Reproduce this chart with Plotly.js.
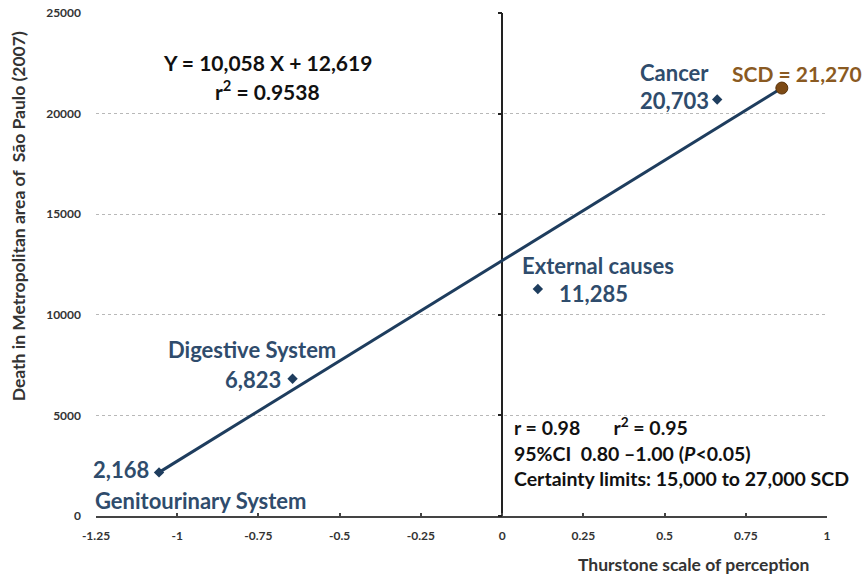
<!DOCTYPE html>
<html><head><meta charset="utf-8">
<script src="https://cdn.plot.ly/plotly-3.0.1.min.js"></script>
<style>html,body{margin:0;padding:0;background:#fff}#chart{width:866px;height:577px}</style>
</head><body><div id="chart"></div>
<script>
// Data
const causes = ["Genitourinary System", "Digestive System", "External causes", "Cancer"];
const thurstone = [-1.056, -0.645, 0.110, 0.662];
const deaths = [2168, 6823, 11285, 20703];
const deathLabels = ["2,168", "6,823", "11,285", "20,703"];
const scdX = [0.861];
const scdY = [21270];
const scdLabel = "SCD = 21,270";
const fitLineX = [-1.056, 0.861];
const fitLineY = [2168, 21270];
const xTickVals = [-1.25, -1, -0.75, -0.5, -0.25, 0, 0.25, 0.5, 0.75, 1];
const xTickText = ["-1.25", "-1", "-0.75", "-0.5", "-0.25", "0", "0.25", "0.5", "0.75", "1"];
const yTickVals = [0, 5000, 10000, 15000, 20000, 25000];
const yTickText = ["0", "5000", "10000", "15000", "20000", "25000"];

const FONT = "Lato, 'Open Sans', sans-serif";
const BLUE = "#2f4c6c";
const NAVY = "#1e3d5e";
const BROWN = "#8a5a22";
const LABEL_SIZE = 22;
const NB = "\u00a0";

// label offsets (pixels) relative to each point
const labelStyle = [
  {vdx: -8, vdy: 3, va: "right", ndx: -66, ndy: -28, na: "left"},
  {vdx: -10, vdy: -1, va: "right", ndx: -41, ndy: 29, na: "center"},
  {vdx: 19, vdy: -5, va: "left", ndx: -18, ndy: 23, na: "left"},
  {vdx: -79, vdy: -1, va: "left", ndx: -79, ndy: 27, na: "left"}
];

const annotations = [];
causes.forEach((c, i) => {
  const s = labelStyle[i];
  annotations.push({x: thurstone[i], y: deaths[i], xref: "x", yref: "y", text: deathLabels[i], showarrow: false,
    xanchor: s.va, yanchor: "middle", xshift: s.vdx, yshift: s.vdy, font: {family: FONT, size: LABEL_SIZE, color: BLUE, weight: "bold"}});
  annotations.push({x: thurstone[i], y: deaths[i], xref: "x", yref: "y", text: c, showarrow: false,
    xanchor: s.na, yanchor: "middle", xshift: s.ndx, yshift: s.ndy, font: {family: FONT, size: LABEL_SIZE, color: BLUE, weight: "bold"}});
});
annotations.push({x: scdX[0], y: scdY[0], xref: "x", yref: "y", text: scdLabel, showarrow: false,
  xanchor: "left", yanchor: "middle", xshift: -52, yshift: 15, font: {family: FONT, size: 21, color: BROWN, weight: "bold"}});

// equation
annotations.push({x: 0.234, y: 0.9006, xref: "paper", yref: "paper", text: "Y = 10,058 X + 12,619", showarrow: false,
  xanchor: "center", yanchor: "middle", font: {family: FONT, size: 21, color: "#111", weight: "bold"}});
annotations.push({x: 0.234, y: 0.847, xref: "paper", yref: "paper", text: "r<sup>2</sup> = 0.9538", showarrow: false,
  xanchor: "center", yanchor: "middle", font: {family: FONT, size: 21, color: "#111", weight: "bold"}});

// statistics
const statLines = [
  "r = 0.98" + NB.repeat(7) + "r<sup>2</sup> = 0.95",
  "95%CI" + NB + NB + "0.80 \u20131.00 (<i>P</i>&lt;0.05)",
  "Certainty limits: 15,000 to 27,000 SCD"
];
const statY = [0.177, 0.125, 0.0755];
statLines.forEach((t, i) => annotations.push({x: 0.569, y: statY[i], xref: "paper", yref: "paper", text: t, showarrow: false,
  xanchor: "left", yanchor: "middle", font: {family: FONT, size: 19.5, color: "#111", weight: "bold"}}));

// axis titles
annotations.push({x: -0.1067, y: 0.596, xref: "paper", yref: "paper", text: "Death in Metropolitan area of" + NB + NB + "São Paulo (2007)",
  textangle: -90, showarrow: false, xanchor: "center", yanchor: "middle", font: {family: FONT, size: 17.5, color: "#333", weight: "bold"}});
annotations.push({x: 0.817, y: -0.0974, xref: "paper", yref: "paper", text: "Thurstone scale of perception",
  showarrow: false, xanchor: "center", yanchor: "middle", font: {family: FONT, size: 17.5, color: "#333", weight: "bold"}});

const traces = [
  {x: fitLineX, y: fitLineY, type: "scatter", mode: "lines", yaxis: "y", line: {color: NAVY, width: 3}, hoverinfo: "skip"},
  {x: thurstone, y: deaths, type: "scatter", mode: "markers", yaxis: "y2", text: causes,
    marker: {symbol: "diamond", size: 8, color: NAVY}},
  {x: scdX, y: scdY, type: "scatter", mode: "markers", yaxis: "y2",
    marker: {symbol: "circle", size: 12, color: "#7d4a14", line: {color: "#5a3208", width: 1}}}
];

const layout = {
  width: 866, height: 577,
  margin: {l: 96, r: 39, t: 13, b: 61},
  paper_bgcolor: "#fff", plot_bgcolor: "#fff",
  showlegend: false,
  xaxis: {range: [-1.25, 1], tickvals: xTickVals, ticktext: xTickText, showgrid: false,
    zeroline: true, zerolinecolor: "#222", zerolinewidth: 2,
    showline: true, linecolor: "#444", linewidth: 2, ticks: "inside", ticklen: 3, tickcolor: "#444", tickwidth: 2,
    ticklabelstandoff: 8, tickfont: {family: FONT, size: 12, color: "#333", weight: "bold"}, fixedrange: true},
  yaxis: {range: [0, 25000], tickvals: yTickVals, ticktext: yTickText, showgrid: true, gridcolor: "#b8b8b8", griddash: "dot",
    gridwidth: 1, zeroline: false, showline: false, ticks: "", ticklabelstandoff: 14,
    tickfont: {family: FONT, size: 12, color: "#333", weight: "bold"}, fixedrange: true},
  yaxis2: {range: [0, 25000], overlaying: "y", anchor: "free", position: 1.25 / 2.25, side: "left",
    tickvals: yTickVals, showticklabels: false, showgrid: false, zeroline: false, showline: false,
    ticks: "outside", ticklen: 4, tickcolor: "#222", tickwidth: 2, fixedrange: true},
  annotations: annotations
};

Plotly.newPlot("chart", traces, layout, {displayModeBar: false, staticPlot: true});
</script></body></html>
